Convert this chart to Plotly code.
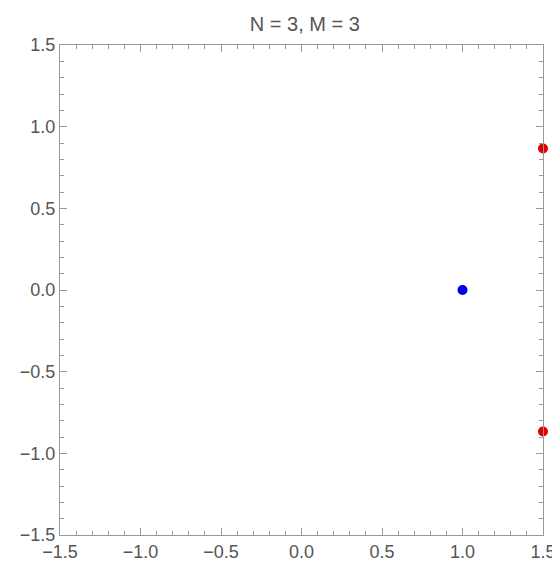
import plotly.graph_objects as go

# points
red_x = [1.5, 1.5]
red_y = [0.866, -0.866]
blue_x = [1.0]
blue_y = [0.0]

tick_vals = [-1.5, -1.0, -0.5, 0.0, 0.5, 1.0, 1.5]

fig = go.Figure()
fig.add_trace(go.Scatter(x=red_x, y=red_y, mode="markers",
                         marker=dict(color="#e00000", size=10),
                         cliponaxis=False, showlegend=False))
fig.add_trace(go.Scatter(x=blue_x, y=blue_y, mode="markers",
                         marker=dict(color="#0000e8", size=10),
                         cliponaxis=False, showlegend=False))

axis = dict(
    range=[-1.5, 1.5], tickvals=tick_vals, tickformat=".1f",
    ticks="inside", ticklen=7, tickcolor="#999999",
    minor=dict(ticks="inside", dtick=0.1, ticklen=4, tickcolor="#999999"),
    showline=True, linecolor="#999999", linewidth=1, mirror="ticks",
    showgrid=False, zeroline=False,
    tickfont=dict(size=18, color="#555555"),
)

fig.update_layout(
    width=560, height=569,
    title=dict(text="N = 3, M = 3", x=0.53, y=0.985,
               font=dict(size=20, color="#555555")),
    xaxis=axis, yaxis=axis,
    plot_bgcolor="#FFFFFF", paper_bgcolor="#FFFFFF",
    font=dict(family="Liberation Sans"),
    margin=dict(l=44, r=24, t=37, b=42),
)

fig.write_html("out.html")
